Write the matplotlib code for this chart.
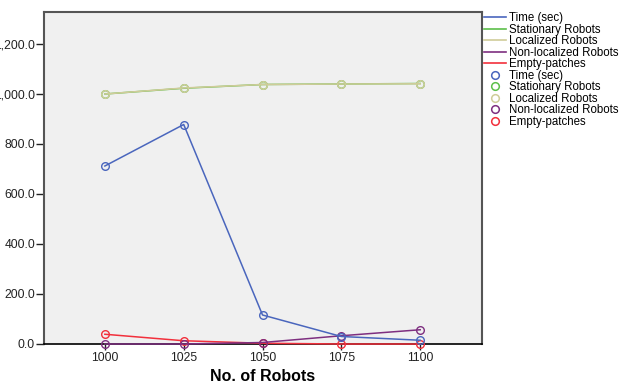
import matplotlib.pyplot as plt
from matplotlib.lines import Line2D

plt.rcParams['font.family'] = ['Liberation Sans', 'DejaVu Sans']

robots = [1000, 1025, 1050, 1075, 1100]
time_sec = [712, 878, 116, 30, 15]
stationary = [1000, 1023, 1038, 1040, 1042]
localized = [1000, 1024, 1038, 1040, 1041]
non_localized = [0, 0, 6, 33, 57]
empty_patches = [39, 13, 3, 0, 0]

names = ["Time (sec)", "Stationary Robots", "Localized Robots",
         "Non-localized Robots", "Empty-patches"]
colors = ["#4a66bd", "#5cbf4a", "#cfcc99", "#7e2f80", "#f2303c"]
series = [time_sec, stationary, localized, non_localized, empty_patches]

fig = plt.figure(figsize=(6.35, 3.89), dpi=100)
ax = fig.add_axes([44 / 635, 1 - 344 / 389, 438 / 635, 332 / 389])
ax.set_facecolor("#f0f0f0")

order = [4, 3, 0, 1, 2]
for i in order:
    ax.plot(robots, series[i], color=colors[i], lw=1.1, marker='o',
            markersize=5.5, markerfacecolor='none', markeredgecolor=colors[i],
            markeredgewidth=1.0, clip_on=False, zorder=3)

ax.set_xlim(980.7, 1119.6)
ax.set_ylim(0, 1328)
ax.set_xticks(robots)
ax.set_yticks([0, 200, 400, 600, 800, 1000, 1200])
ax.set_yticklabels(["0.0", "200.0", "400.0", "600.0", "800.0", "1,000.0", "1,200.0"])
ax.tick_params(axis='both', direction='out', width=1, labelsize=8.7,
               colors='#222222')
ax.tick_params(axis='y', length=6, pad=0.5)
ax.tick_params(axis='x', length=4.5, pad=1)
for s in ['left', 'top', 'right']:
    ax.spines[s].set_color('#555555')
    ax.spines[s].set_linewidth(1.5)
ax.spines['bottom'].set_color('black')
ax.spines['bottom'].set_linewidth(1.2)

ax.set_xlabel("No. of Robots", fontsize=11.5, fontweight='bold', labelpad=4)

handles = []
for n, c in zip(names, colors):
    handles.append(Line2D([0], [0], color=c, lw=1.2, label=n))
for n, c in zip(names, colors):
    handles.append(Line2D([0], [0], color=c, lw=0, marker='o', markersize=5.5,
                          markerfacecolor='none', markeredgewidth=1.1, label=n))
fig.legend(handles=handles, loc='upper left', bbox_to_anchor=(484 / 635, 1 - 12 / 389),
           frameon=False, fontsize=8.3, handlelength=1.9, handletextpad=0.3,
           labelspacing=-0.04, borderpad=0, borderaxespad=0)

fig.savefig("out.png", dpi=100)
